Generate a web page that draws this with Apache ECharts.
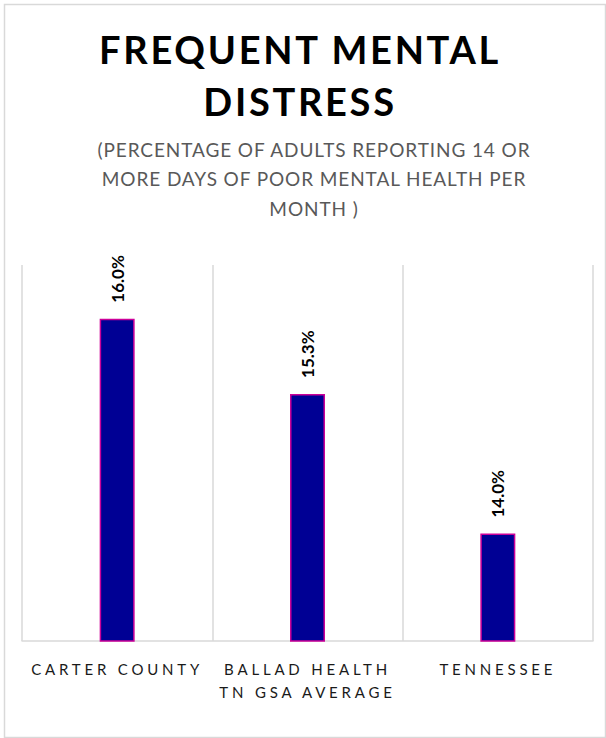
<!DOCTYPE html>
<html><head><meta charset="utf-8">
<script src="https://cdn.jsdelivr.net/npm/echarts@6/dist/echarts.min.js"></script>
<style>html,body{margin:0;padding:0;background:#fff;}#c{width:606px;height:738px;}</style>
</head><body><div id="c"></div>
<script>
const categories = ['CARTER COUNTY', 'BALLAD HEALTH\nTN GSA AVERAGE', 'TENNESSEE'];
const values = [16.0, 15.3, 14.0];
const titleLines = ['FREQUENT MENTAL', 'DISTRESS'];
const subtitleLines = ['(PERCENTAGE OF ADULTS REPORTING 14 OR', 'MORE DAYS OF POOR MENTAL HEALTH PER', 'MONTH )'];

const titleGraphics = titleLines.map((t, i) => ({
  type: 'text', x: 300, y: 49 + i * 52,
  style: {text: t, align: 'center', verticalAlign: 'middle', fill: '#000',
    font: 'bold 38px Lato'}
}));
const subGraphics = subtitleLines.map((t, i) => ({
  type: 'text', x: 314, y: 149 + i * 29.5,
  style: {text: t, align: 'center', verticalAlign: 'middle', fill: '#595959',
    font: '19px Lato'}
}));

const chart = echarts.init(document.getElementById('c'), null, {renderer: 'svg'});
chart.setOption({
  backgroundColor: '#fff',
  animation: false,
  graphic: [{
    type: 'rect', left: 2, top: 2,
    shape: {width: 601, height: 733},
    style: {fill: 'none', stroke: '#d9d9d9', lineWidth: 1.5}
  }].concat(titleGraphics, subGraphics),
  grid: {left: 22, right: 13, top: 265, bottom: 97, containLabel: false},
  xAxis: {
    type: 'category', data: categories,
    axisLine: {show: true, lineStyle: {color: '#d9d9d9', width: 1.5}},
    axisTick: {show: false},
    splitLine: {show: true, interval: 0, lineStyle: {color: '#d9d9d9', width: 1.5}},
    axisLabel: {interval: 0, margin: 16, fontFamily: 'Lato', fontSize: 15, lineHeight: 23, color: '#1a1a1a'}
  },
  yAxis: {
    type: 'value', min: 13, max: 16.5,
    show: false, splitLine: {show: false}
  },
  series: [{
    type: 'bar', data: values, barWidth: 35,
    itemStyle: {color: '#000094', borderColor: '#cc0099', borderWidth: 1.5},
    label: {
      show: true, position: 'top', rotate: 90, distance: 16,
      align: 'left', verticalAlign: 'middle',
      formatter: p => p.value.toFixed(1) + '%',
      fontFamily: 'Lato', fontWeight: 'bold', fontSize: 17, color: '#000'
    }
  }]
});

// letter spacing, as in the reference typography
const spacing = {};
titleLines.forEach(t => spacing[t] = '2.7px');
subtitleLines.forEach(t => spacing[t] = '0.9px');
categories.forEach(c => c.split('\n').forEach(t => spacing[t] = '3.8px'));
function applySpacing() {
  document.querySelectorAll('#c text').forEach(el => {
    const s = spacing[el.textContent];
    if (s) el.setAttribute('letter-spacing', s);
  });
}
applySpacing();
chart.on('finished', applySpacing);
</script></body></html>
